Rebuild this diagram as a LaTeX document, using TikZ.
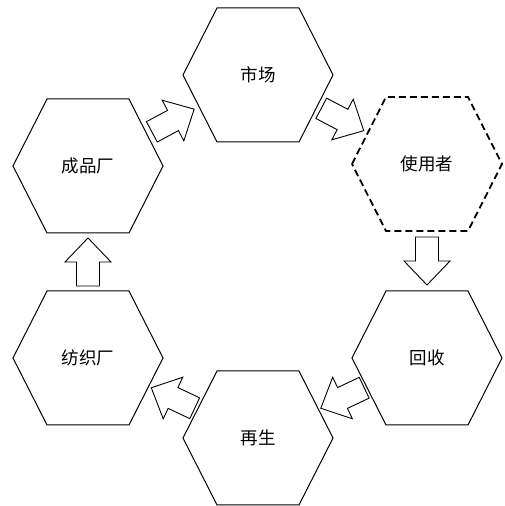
\documentclass[tikz,border=0pt]{standalone}
\usepackage{fontspec}
\newfontfamily\cjk{Noto Sans CJK SC}
\usetikzlibrary{calc}
\tikzset{
  x=1pt, y=1pt,
  lbl/.style={font=\cjk\fontsize{17.5}{20}\selectfont, inner sep=0pt},
  hexline/.style={draw=black, line width=1pt, line join=miter},
  hexdash/.style={draw=black, line width=1.8pt, dash pattern=on 7pt off 4pt},
  blk/.style={draw=black, fill=white, line width=0.9pt, line join=miter}
}
\newcommand{\hexpath}[2]{\draw[#2, shift={(#1.center)}] (-75,0) -- (-41,67) -- (41,67) -- (75,0) -- (41,-67) -- (-41,-67) -- cycle;}
\newcommand{\blockarrow}[3]{%
  \coordinate (#1) at ($(#2)!0.5!(#3)$);
  \path let \p1=($(#3)-(#2)$), \n1={atan2(\y1,\x1)} in
    [blk] \pgfextra{\xdef\arrang{\n1}};
  \draw[blk, shift={(#1)}, rotate=\arrang] (-24,-11.5) -- (0,-11.5) -- (0,-23) -- (24,0) -- (0,23) -- (0,11.5) -- (-24,11.5) -- cycle;}
\begin{document}
\begin{tikzpicture}
\useasboundingbox (0,0) rectangle (505,506);
\node[lbl] (sc) at (258,431) {市场};
\node[lbl] (syz) at (427,342) {使用者};
\node[lbl] (hs) at (427,148) {回收};
\node[lbl] (zs) at (258,68) {再生};
\node[lbl] (fzc) at (88,148) {纺织厂};
\node[lbl] (cpc) at (88,340) {成品厂};
\hexpath{sc}{hexline}
\hexpath{syz}{hexdash}
\hexpath{hs}{hexline}
\hexpath{zs}{hexline}
\hexpath{fzc}{hexline}
\hexpath{cpc}{hexline}
\blockarrow{a1}{cpc}{sc}
\blockarrow{a2}{sc}{syz}
\blockarrow{a3}{syz}{hs}
\blockarrow{a4}{hs}{zs}
\blockarrow{a5}{zs}{fzc}
\blockarrow{a6}{fzc}{cpc}
\end{tikzpicture}
\end{document}
